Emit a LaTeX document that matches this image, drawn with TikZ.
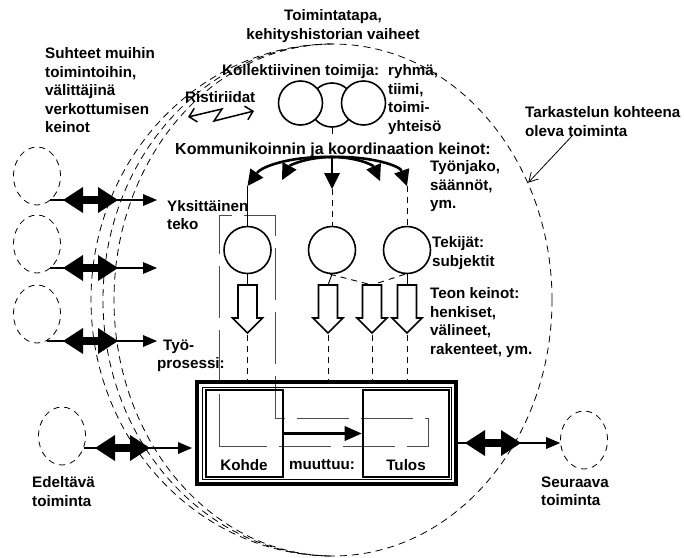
\documentclass[tikz,border=0pt]{standalone}
\usepackage{fontspec}
\setmainfont{Liberation Sans}[BoldFont={Liberation Sans Bold}]
\newfontfamily\heavy{Liberation Sans Bold}
\usetikzlibrary{shapes.geometric,arrows.meta}

\tikzset{
  lbl/.style={font=\heavy\fontsize{15.2}{18.5}\selectfont, inner sep=0pt, align=left, anchor=north west},
  bigdash/.style={line width=0.8pt, dash pattern=on 7pt off 5pt},
  focus/.style={ellipse, draw, bigdash, minimum width=438pt, minimum height=512pt, inner sep=0pt},
  ghost/.style={ellipse, draw, line width=0.8pt, dash pattern=on 6pt off 5pt, minimum width=47pt, minimum height=58pt, inner sep=0pt},
  actor/.style={circle, draw, line width=1.6pt, minimum size=47pt, inner sep=0pt, fill=white},
  box/.style={draw, line width=2.6pt, inner sep=0pt},
  fat/.style={line width=8pt, {Triangle[length=20pt,width=26pt,line width=0pt]}-{Triangle[length=20pt,width=26pt,line width=0pt]}},
  link/.style={line width=1.3pt, -{Triangle[length=14pt,width=12pt,line width=0pt]}},
  fan/.style={line width=2.6pt, -{Triangle[length=16pt,width=16pt,line width=0pt]}},
  tie/.style={line width=0.9pt},
  dtie/.style={line width=0.9pt, dash pattern=on 6pt off 5pt},
  hollow/.style={draw, line width=1.6pt, fill=white, line join=miter},
  actframe/.style={draw=black!70, line width=0.9pt, dash pattern=on 52pt off 12pt},
  pointer/.style={line width=0.8pt, -{Straight Barb[length=9pt,width=10pt]}},
  conflict/.style={line width=1.5pt, {Straight Barb[length=7pt,width=14pt]}-{Straight Barb[length=7pt,width=14pt]}}
}

\begin{document}
\begin{tikzpicture}[x=1pt,y=-1pt]
\useasboundingbox (0,0) rectangle (684,557);

% the activity under study and its history
\node[focus] (focus) at (333,300) {};
\begin{scope}
  \clip (0,0) rectangle (333,557);
  \draw[bigdash] (333,300) ellipse [x radius=230, y radius=256];
  \draw[bigdash] (333,300) ellipse [x radius=242, y radius=256];
\end{scope}

% neighbouring activities
\node[ghost] (e1) at (37,176) {};
\node[ghost] (e2) at (37,244) {};
\node[ghost] (e3) at (37,314) {};
\node[ghost] (prev) at (62,436) {};
\node[ghost] (next) at (584,440) {};

\coordinate (r1) at (157,200);
\coordinate (r2) at (157,268);
\coordinate (r3) at (157,341);
\coordinate (r4) at (192,448);
\coordinate (r5) at (458,443);

\draw[link] (e1.-62 |- r1) -- (r1);
\draw[link] (e2.-62 |- r2) -- (r2);
\draw[link] (e3.-69 |- r3) -- (r3);
\draw[link] (prev.-29 |- r4) -- (r4);
\draw[link] (r5) -- (next.west |- r5);
\draw[fat] (r1) ++(-94,0) -- ++(55,0);
\draw[fat] (r2) ++(-94,0) -- ++(55,0);
\draw[fat] (r3) ++(-94,0) -- ++(55,0);
\draw[fat] (r4) ++(-97,0) -- ++(55,0);
\draw[fat] (r5) ++(7,0) -- ++(56,0);

% individual act
\draw[actframe] (219,446) -- (219,215) -- (275,215) -- (275,418) -- (428,418) -- (428,446) -- cycle;

% work process
\node[draw, line width=4pt, minimum width=259pt, minimum height=102pt, inner sep=0pt] (frame) at (326.5,433) {};
\node[draw, line width=0.9pt, minimum width=249pt, minimum height=92pt, inner sep=0pt] (inner) at (326.5,433) {};
\node[box, minimum width=77pt, minimum height=87pt] (kohde) at (244.5,433.5) {};
\node[box, minimum width=86pt, minimum height=87pt] (tulos) at (406,433.5) {};
\draw[line width=2.6pt, -{Triangle[length=17pt,width=15pt,line width=0pt]}] (kohde.east) -- (tulos.west);

% collective subject
\node[actor, minimum size=44pt] (g2) at (332,105) {};
\node[actor, minimum size=44pt] (g1) at (300.5,103) {};
\node[actor, minimum size=44pt] (g3) at (363.5,103) {};
\draw[tie] (g2.south) -- ++(0,6);

% communication and coordination
\coordinate (hub) at (332,157);
\coordinate (k1) at (247.5,186);
\coordinate (k2) at (282,180);
\coordinate (k3) at (332,189);
\coordinate (k4) at (380,181);
\coordinate (k5) at (407,186);
\draw[fan] (hub) .. controls (292,156) and (262,166) .. (k1);
\draw[fan] (hub) .. controls (308,157) and (290,165) .. (k2);
\draw[fan] (hub) -- (k3);
\draw[fan] (hub) .. controls (356,157) and (373,165) .. (k4);
\draw[fan] (hub) .. controls (372,156) and (400,166) .. (k5);

% subjects
\node[actor] (c1) at (247.5,250) {};
\node[actor] (c2) at (332,250) {};
\node[actor] (c3) at (407,250) {};
\draw[tie] (k1) -- (c1.north);
\draw[dtie] (k3) -- (c2.north);
\draw[dtie] (k5) -- (c3.north);

% means of action
\foreach \x [count=\i] in {247.5,328,372,407} {
  \draw[hollow] (\x-9.5,285) -- (\x+9.5,285) -- (\x+9.5,318) -- (\x+15,318) -- (\x,333) -- (\x-15,318) -- (\x-9.5,318) -- cycle;
  \coordinate (a\i) at (\x,285);
  \coordinate (b\i) at (\x,335);
}
\draw[tie] (c1.south) -- (a1);
\draw[tie] (c2.south) -- (a2);
\draw[dtie] (c2.-95) -- (a3);
\draw[dtie] (c3.-95) -- (a3);
\draw[tie] (c3.south) -- (a4);
\foreach \i in {1,...,4} \draw[dtie] (b\i) -- (b\i |- frame.north);

% contradictions
\draw[conflict] (188,117) -- (222,109) -- (214,121) -- (254,111);

\coordinate (tp) at (572,136);
\draw[pointer] (tp) -- (focus.31);

% texts
\node[lbl, align=center, anchor=north] (phase) at (333,9.5) {Toimintatapa,\\kehityshistorian vaiheet};
\node[lbl] (rel) at (45,47.5) {Suhteet muihin\\toimintoihin,\\välittäjinä\\verkottumisen\\keinot};
\node[lbl] (coll) at (222,64.5) {Kollektiivinen toimija:};
\node[lbl] (team) at (388,64.5) {ryhmä,\\tiimi,\\toimi-\\yhteisö};
\node[lbl] (contr) at (185,91.5) {Ristiriidat};
\node[lbl, font=\heavy\fontsize{16}{18.5}\selectfont] (comm) at (175,143) {Kommunikoinnin ja koordinaation keinot:};
\node[lbl] (div) at (430,160.5) {Työnjako,\\säännöt,\\ym.};
\node[lbl] (act) at (167,200) {Yksittäinen\\teko};
\node[lbl] (subj) at (432,236.5) {Tekijät:\\subjektit};
\node[lbl] (means) at (430,287.5) {Teon keinot:\\henkiset,\\välineet,\\rakenteet, ym.};
\node[lbl] (proc) at (157,339.5) {\hspace*{6pt}Työ-\\prosessi:};
\node[lbl] (tark) at (525,106.5) {Tarkastelun kohteena\\oleva toiminta};
\node[lbl] (prevl) at (32,476.5) {Edeltävä\\toiminta};
\node[lbl] (nextl) at (541,476.5) {Seuraava\\toiminta};
\node[lbl, anchor=center] (obj) at (244,465) {Kohde};
\node[lbl, anchor=center] (chg) at (322,465) {muuttuu:};
\node[lbl, anchor=center] (res) at (406,465) {Tulos};
\end{tikzpicture}
\end{document}
